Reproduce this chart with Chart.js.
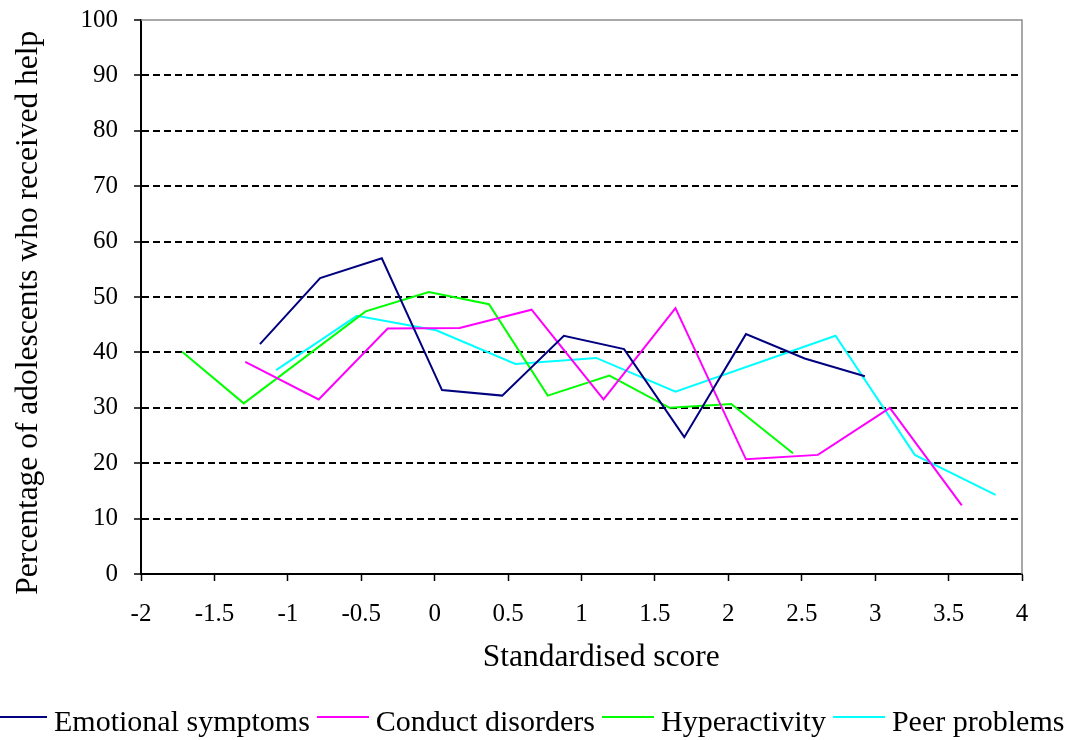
<!DOCTYPE html>
<html>
<head>
<meta charset="utf-8">
<script src="https://cdn.jsdelivr.net/npm/chart.js@4.4.1/dist/chart.umd.min.js"></script>
<style>
  html, body { margin: 0; padding: 0; background: #fff; width: 1076px; height: 740px; overflow: hidden; }
  #wrap { position: relative; width: 1076px; height: 740px; }
  canvas { position: absolute; left: 0; top: 0; }
  #legend { position: absolute; left: -5px; top: 702px; height: 30px; display: flex; align-items: center; white-space: nowrap;
            font-family: "Liberation Serif", "Times New Roman", serif; font-size: 30px; color: #000; }
  #legend .ln { width: 52px; height: 2px; margin-right: 7px; }
  #legend .tx { margin-right: 7px; position: relative; top: 4px; }
</style>
</head>
<body>
<div id="wrap">
  <canvas id="c" width="1076" height="740"></canvas>
  <div id="legend"></div>
</div>
<script>
// ---- data ----
const seriesNames = ['Emotional symptoms', 'Conduct disorders', 'Hyperactivity', 'Peer problems'];
const seriesColors = ['#000080', '#FF00FF', '#00FF00', '#00FFFF'];

const emotionalX = [-1.19, -0.78, -0.36, 0.05, 0.46, 0.88, 1.29, 1.70, 2.12, 2.52, 2.93];
const emotionalY = [41.5, 53.4, 57.0, 33.2, 32.2, 43.0, 40.6, 24.7, 43.3, 38.9, 35.7];

const conductX = [-1.29, -0.79, -0.32, 0.17, 0.66, 1.15, 1.64, 2.12, 2.61, 3.10, 3.59];
const conductY = [38.3, 31.5, 44.3, 44.4, 47.7, 31.5, 48.0, 20.7, 21.5, 30.0, 12.4];

const hyperX = [-1.72, -1.30, -0.47, -0.04, 0.37, 0.77, 1.19, 1.60, 2.02, 2.44];
const hyperY = [40.1, 30.8, 47.4, 50.9, 48.7, 32.2, 35.8, 30.0, 30.7, 21.8];

const peerX = [-1.08, -0.53, 0.01, 0.55, 1.10, 1.64, 2.73, 3.27, 3.82];
const peerY = [36.8, 46.6, 44.0, 37.9, 39.0, 32.9, 43.0, 21.5, 14.3];

const xTickLabels = ['-2', '-1.5', '-1', '-0.5', '0', '0.5', '1', '1.5', '2', '2.5', '3', '3.5', '4'];
const yTickLabels = ['0', '10', '20', '30', '40', '50', '60', '70', '80', '90', '100'];

const xTitle = 'Standardised score';
const yTitle = 'Percentage of adolescents who received help';
// --------------------------------------

const allX = [emotionalX, conductX, hyperX, peerX];
const allY = [emotionalY, conductY, hyperY, peerY];

const datasets = seriesNames.map((name, i) => ({
  label: name,
  data: allX[i].map((x, j) => ({ x: x, y: allY[i][j] })),
  borderColor: seriesColors[i],
  backgroundColor: seriesColors[i],
  borderWidth: 2,
  pointRadius: 0,
  tension: 0,
  fill: false
}));

const FONT = '"Liberation Serif", "Times New Roman", serif';

const framePlugin = {
  id: 'frame',
  beforeDatasetsDraw(chart) {
    const a = chart.chartArea, ctx = chart.ctx;
    ctx.save();
    ctx.strokeStyle = '#8c8c8c';
    ctx.lineWidth = 1.5;
    ctx.beginPath();
    ctx.moveTo(a.left, a.top);
    ctx.lineTo(a.right, a.top);
    ctx.lineTo(a.right, a.bottom);
    ctx.stroke();
    ctx.restore();
  }
};

new Chart(document.getElementById('c'), {
  type: 'line',
  data: { datasets: datasets },
  options: {
    responsive: false,
    animation: false,
    layout: { padding: { left: 0, top: 20, right: 54, bottom: 63 } },
    plugins: {
      legend: { display: false },
      tooltip: { enabled: false }
    },
    scales: {
      x: {
        type: 'linear',
        min: -2, max: 4,
        afterFit(scale) { scale.height = 103; scale.paddingLeft = 0; scale.paddingRight = 0; },
        afterBuildTicks(scale) {
          scale.ticks = xTickLabels.map(v => ({ value: parseFloat(v) }));
        },
        ticks: {
          autoSkip: false,
          maxRotation: 0,
          color: '#000',
          padding: 18,
          font: { family: FONT, size: 25 },
          callback: (v, i) => xTickLabels[i]
        },
        grid: { drawOnChartArea: false, drawTicks: true, tickLength: 7, tickColor: '#000', tickWidth: 1.5 },
        border: { color: '#000', width: 2 },
        title: {
          display: true, text: '     ' + xTitle, color: '#000',
          font: { family: FONT, size: 31.5 }, padding: { top: 0, bottom: 0 }
        }
      },
      y: {
        min: 0, max: 100,
        afterFit(scale) { scale.width = 141; scale.paddingTop = 0; scale.paddingBottom = 0; },
        afterBuildTicks(scale) {
          scale.ticks = yTickLabels.map(v => ({ value: parseFloat(v) }));
        },
        ticks: {
          color: '#000',
          padding: 16,
          font: { family: FONT, size: 25 },
          callback: (v, i) => yTickLabels[i]
        },
        grid: {
          color: c => (c.tick && (c.tick.value === 0 || c.tick.value === 100)) ? 'rgba(0,0,0,0)' : '#000',
          lineWidth: 2,
          tickLength: 7,
          tickColor: '#000',
          tickWidth: 1.5,
          tickBorderDash: []
        },
        border: { color: '#000', width: 2, dash: [7, 4] },
        title: {
          display: true, text: yTitle + '    ', color: '#000',
          font: { family: FONT, size: 31.5 }, padding: { top: 10, bottom: 0 }
        }
      }
    }
  },
  plugins: [framePlugin]
});

// HTML legend built from the series arrays
const leg = document.getElementById('legend');
seriesNames.forEach((name, i) => {
  const ln = document.createElement('span');
  ln.className = 'ln';
  ln.style.background = seriesColors[i];
  const tx = document.createElement('span');
  tx.className = 'tx';
  tx.textContent = name;
  leg.appendChild(ln);
  leg.appendChild(tx);
});
</script>
</body>
</html>
